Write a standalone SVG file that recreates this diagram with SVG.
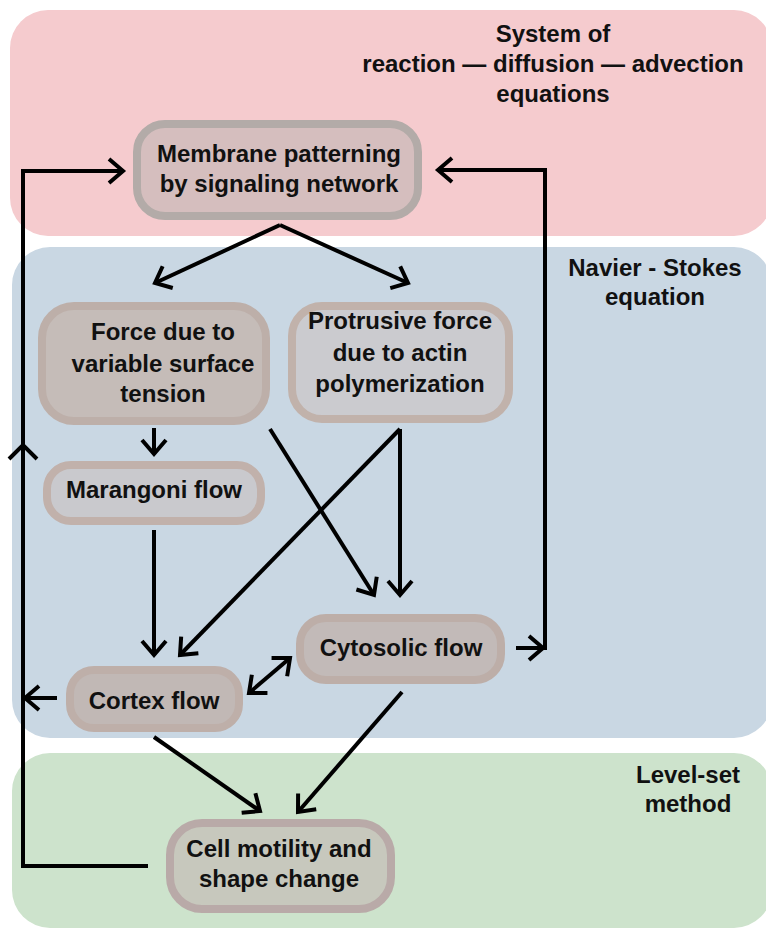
<svg xmlns="http://www.w3.org/2000/svg" width="766" height="932" viewBox="0 0 766 932">
<style>
text{font-family:"Liberation Sans",Arial,sans-serif;font-weight:bold;font-size:24px;fill:#111;text-anchor:middle}
.node{stroke-width:8}
.c{fill:none;stroke:#000;stroke-width:4;stroke-linejoin:miter;stroke-linecap:butt}
</style>
<defs>
<marker id="ah" markerUnits="userSpaceOnUse" markerWidth="40" markerHeight="40" viewBox="-20 -20 40 40" refX="0" refY="0" orient="auto-start-reverse" overflow="visible">
<path d="M-14,-12 L0,0 L-14,12" fill="none" stroke="#000" stroke-width="4"/>
</marker>
</defs>
<rect width="766" height="932" fill="#fff"/>
<g id="bands">
<rect x="10" y="10" width="762" height="226" rx="38" fill="#f5cbce"/>
<rect x="12" y="247" width="760" height="491" rx="38" fill="#c9d7e3"/>
<rect x="12" y="753" width="760" height="175" rx="38" fill="#cde3cc"/>
</g>
<g id="band-labels">
<text x="553" y="42">System of</text>
<text x="553" y="72">reaction — diffusion — advection</text>
<text x="553" y="102">equations</text>
<text x="655" y="276">Navier - Stokes</text>
<text x="655" y="305">equation</text>
<text x="688" y="783">Level-set</text>
<text x="688" y="812">method</text>
</g>
<g id="connectors">
<path class="c" d="M280,225 L155,283" marker-end="url(#ah)"/>
<path class="c" d="M280,225 L408,283" marker-end="url(#ah)"/>
<path class="c" d="M154,428 L154,454" marker-end="url(#ah)"/>
<path class="c" d="M270,429 L374,595" marker-end="url(#ah)"/>
<path class="c" d="M400,429 L400,595" marker-end="url(#ah)"/>
<path class="c" d="M400,429 L180,655" marker-end="url(#ah)"/>
<path class="c" d="M154,530 L154,655" marker-end="url(#ah)"/>
<path class="c" d="M249,693 L290,658" marker-start="url(#ah)" marker-end="url(#ah)"/>
<path class="c" d="M57,698 L25,698" marker-end="url(#ah)"/>
<path class="c" d="M516,648 L543,648" marker-end="url(#ah)"/>
<path class="c" d="M545,650 L545,170 L438,170" marker-end="url(#ah)"/>
<path class="c" d="M154,737 L260,811" marker-end="url(#ah)"/>
<path class="c" d="M402,692 L298,812" marker-end="url(#ah)"/>
<path class="c" d="M148,866 L23,866 L23,171 L123,171" marker-end="url(#ah)"/>
<path class="c" d="M9,459 L23,445 L37,459"/>
</g>
<g id="membrane">
<rect class="node" x="137" y="124" width="281" height="92" rx="28" fill="#d5bebe" stroke="#b3aba8"/>
<text x="279" y="162">Membrane patterning</text>
<text x="279" y="192">by signaling network</text>
</g>
<g id="force">
<rect class="node" x="42" y="306" width="224" height="115" rx="32" fill="#c5bcb8" stroke="#bdafa9"/>
<text x="163" y="340">Force due to</text>
<text x="163" y="372">variable surface</text>
<text x="163" y="402">tension</text>
</g>
<g id="protrusive">
<rect class="node" x="292" y="306" width="217" height="113" rx="30" fill="#cbcbcf" stroke="#c1b2ab"/>
<text x="400" y="329">Protrusive force</text>
<text x="400" y="361">due to actin</text>
<text x="400" y="392">polymerization</text>
</g>
<g id="marangoni">
<rect class="node" x="47" y="465" width="214" height="56" rx="24" fill="#c9c9cd" stroke="#c1b1ab"/>
<text x="154" y="498">Marangoni flow</text>
</g>
<g id="cortex">
<rect class="node" x="70" y="670" width="169" height="58" rx="24" fill="#c1b8b5" stroke="#beafa9"/>
<text x="154" y="709">Cortex flow</text>
</g>
<g id="cytosolic">
<rect class="node" x="300" y="618" width="201" height="62" rx="26" fill="#c2bab8" stroke="#bdaea8"/>
<text x="401" y="656">Cytosolic flow</text>
</g>
<g id="cell">
<rect class="node" x="170" y="823" width="221" height="86" rx="32" fill="#c7c8bd" stroke="#b9aaa8"/>
<text x="279" y="857">Cell motility and</text>
<text x="279" y="887">shape change</text>
</g>
</svg>
